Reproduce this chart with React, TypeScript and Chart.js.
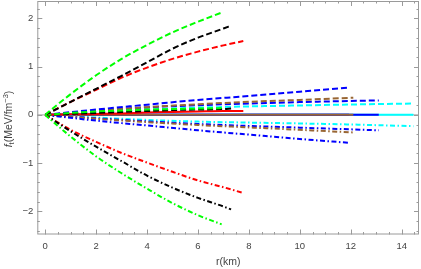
import React, { useEffect, useRef } from "react";
import { Chart, registerables } from "chart.js";

Chart.register(...registerables);

// ---- data (r in km, f in MeV/fm^-3) ----
const rGreen = [0, 0.5, 1, 2, 3, 4, 5, 6, 6.93];
const greenUp = [0, 0.22, 0.43, 0.82, 1.16, 1.45, 1.71, 1.93, 2.12];
const greenDown = [0, -0.23, -0.45, -0.86, -1.21, -1.53, -1.83, -2.08, -2.27];
const greenMid = [0, 0.02, 0.04, 0.07, 0.09, 0.11, 0.12, 0.13, 0.14];

const rBlack = [0, 1, 2, 3, 4, 5, 6, 7, 7.3];
const blackUp = [0, 0.27, 0.54, 0.81, 1.09, 1.37, 1.6, 1.79, 1.85];
const blackDown = [0, -0.34, -0.66, -0.96, -1.26, -1.51, -1.72, -1.9, -1.96];
const blackMid = [0, 0.02, 0.04, 0.06, 0.08, 0.1, 0.11, 0.12, 0.13];

const rRed = [0, 1, 2, 3, 4, 5, 6, 7, 7.78];
const redUp = [0, 0.27, 0.52, 0.77, 0.98, 1.16, 1.31, 1.44, 1.53];
const redDown = [0, -0.31, -0.56, -0.79, -0.99, -1.18, -1.36, -1.5, -1.62];
const redMid = [0, 0.01, 0.02, 0.03, 0.05, 0.06, 0.07, 0.08, 0.08];

const rBlue1 = [0, 2, 4, 6, 8, 10, 11.93];
const blue1Up = [0, 0.11, 0.21, 0.31, 0.39, 0.48, 0.567];
const blue1Down = [0, -0.12, -0.22, -0.32, -0.41, -0.5, -0.58];
const blue1Mid = [0, 0, 0, 0, 0, 0, 0];

const rBrown = [0, 2, 4, 6, 8, 10, 12.1];
const brownUp = [0, 0.085, 0.16, 0.22, 0.27, 0.31, 0.355];
const brownDown = [0, -0.08, -0.15, -0.21, -0.26, -0.31, -0.365];
const brownMid = [0, 0, 0, 0, 0, 0, 0];

const rBlue2 = [0, 2, 4, 6, 8, 10, 13.1];
const blue2Up = [0, 0.08, 0.155, 0.2, 0.235, 0.265, 0.3];
const blue2Down = [0, -0.07, -0.135, -0.19, -0.23, -0.265, -0.32];
const blue2Mid = [0, 0, 0, 0, 0, 0, 0];

const rCyan = [0, 2, 4, 6, 8, 10, 12, 14.46];
const cyanUp = [0, 0.055, 0.11, 0.15, 0.175, 0.195, 0.215, 0.235];
const cyanDown = [0, -0.055, -0.105, -0.14, -0.16, -0.178, -0.2, -0.234];
const cyanMid = [0, 0, 0, 0, 0, 0, 0, 0];

const xTickValues = [0, 2, 4, 6, 8, 10, 12, 14];
const yTickValues = [-2, -1, 0, 1, 2];
const xTitle = "r(km)";

const X_MIN = -0.31, X_MAX = 14.68, Y_MIN = -2.48, Y_MAX = 2.36;

const GREEN = "#00ff00", BLACK = "#000000", RED = "#ff0000", BLUE = "#0000ff", BROWN = "#996633", CYAN = "#00ffff";

type Kind = "dash" | "dashdot" | "solid";

function series(label: string, rs: number[], vs: number[], color: string, kind: Kind, width = 2) {
  return {
    label,
    data: rs.map((r, i) => ({ x: r, y: vs[i] })),
    borderColor: color,
    backgroundColor: color,
    borderWidth: width,
    borderDash: kind === "dash" ? [6, 3] : kind === "dashdot" ? [5, 2.5, 1.5, 2.5] : [],
    pointRadius: 0,
    fill: false,
    cubicInterpolationMode: "monotone" as const,
    borderCapStyle: "butt" as const,
  };
}

const TICK_COLOR = "#444444";
const FRAME_COLOR = "#9a9a9a";

const framePlugin = {
  id: "frameTicks",
  beforeDatasetsDraw(chart: any) {
    const { ctx, chartArea: a, scales } = chart;
    const y0 = scales.y.getPixelForValue(0);
    ctx.save();
    ctx.strokeStyle = "#a8a8a8";
    ctx.lineWidth = 1;
    ctx.beginPath();
    ctx.moveTo(a.left, y0);
    ctx.lineTo(a.right, y0);
    ctx.stroke();
    ctx.restore();
  },
  afterDraw(chart: any) {
    const { ctx, chartArea: a, scales } = chart;
    const xs = scales.x, ys = scales.y;
    ctx.save();
    ctx.strokeStyle = FRAME_COLOR;
    ctx.lineWidth = 1;
    ctx.strokeRect(a.left + 0.5, a.top + 0.5, a.right - a.left - 1, a.bottom - a.top - 1);
    ctx.beginPath();
    for (let v = 0; v <= X_MAX; v += 0.5) {
      const major = xTickValues.includes(v);
      const len = major ? 5 : 2.5;
      const px = Math.round(xs.getPixelForValue(v)) + 0.5;
      ctx.moveTo(px, a.bottom);
      ctx.lineTo(px, a.bottom - len);
      ctx.moveTo(px, a.top);
      ctx.lineTo(px, a.top + len);
    }
    for (let k = -12; k <= 11; k++) {
      const v = k / 5;
      if (v < Y_MIN || v > Y_MAX) continue;
      const major = k % 5 === 0;
      const len = major ? 5 : 2.5;
      const py = Math.round(ys.getPixelForValue(v)) + 0.5;
      ctx.moveTo(a.left, py);
      ctx.lineTo(a.left + len, py);
      ctx.moveTo(a.right, py);
      ctx.lineTo(a.right - len, py);
    }
    ctx.stroke();

    ctx.fillStyle = TICK_COLOR;
    ctx.font = "10.5px 'Liberation Sans', Arial, sans-serif";
    ctx.textAlign = "center";
    ctx.textBaseline = "middle";
    ctx.fillText(xTitle, (a.left + a.right) / 2, 262);

    const base = "10.5px 'Liberation Sans', Arial, sans-serif";
    const small = "7.5px 'Liberation Sans', Arial, sans-serif";
    const ital = "italic 10.5px 'Liberation Sans', Arial, sans-serif";
    const parts: [string, string, number][] = [
      ["f", ital, 0],
      ["t", small, 2.5],
      ["(MeV/fm", base, 0],
      ["\u22123", small, -3.5],
      [")", base, 0],
    ];
    let total = 0;
    for (const [t, f] of parts) {
      ctx.font = f;
      total += ctx.measureText(t).width;
    }
    ctx.translate(9, 119);
    ctx.rotate(-Math.PI / 2);
    ctx.textAlign = "left";
    let cx = -total / 2;
    for (const [t, f, dy] of parts) {
      ctx.font = f;
      ctx.fillText(t, cx, dy);
      cx += ctx.measureText(t).width;
    }
    ctx.restore();
  },
};

export default function App() {
  const ref = useRef<HTMLCanvasElement | null>(null);
  useEffect(() => {
    if (!ref.current) return;
    // Chart.js paints the first dataset on top, so list top-most first
    const datasets = [
      series("green down", rGreen, greenDown, GREEN, "dashdot"),
      series("green up", rGreen, greenUp, GREEN, "dash"),
      series("black down", rBlack, blackDown, BLACK, "dashdot"),
      series("black up", rBlack, blackUp, BLACK, "dash"),
      series("red down", rRed, redDown, RED, "dashdot"),
      series("red up", rRed, redUp, RED, "dash"),
      series("green mid", rGreen, greenMid, GREEN, "dash"),
      series("black mid", rBlack, blackMid, BLACK, "dash"),
      series("red mid", rRed, redMid, RED, "solid"),
      series("blue1 down", rBlue1, blue1Down, BLUE, "dashdot"),
      series("blue1 up", rBlue1, blue1Up, BLUE, "dash"),
      series("brown down", rBrown, brownDown, BROWN, "dashdot"),
      series("brown up", rBrown, brownUp, BROWN, "dash"),
      series("blue2 down", rBlue2, blue2Down, BLUE, "dashdot"),
      series("blue2 up", rBlue2, blue2Up, BLUE, "dash"),
      series("cyan down", rCyan, cyanDown, CYAN, "dashdot"),
      series("cyan up", rCyan, cyanUp, CYAN, "dash"),
      series("brown mid", rBrown, brownMid, BROWN, "solid"),
      series("blue1 mid", rBlue1, blue1Mid, BLUE, "solid"),
      series("blue2 mid", rBlue2, blue2Mid, BLUE, "solid"),
      series("cyan mid", rCyan, cyanMid, CYAN, "solid"),
    ];
    const chart = new Chart(ref.current, {
      type: "line",
      data: { datasets },
      options: {
        animation: false,
        responsive: false,
        devicePixelRatio: 1,
        layout: { padding: { top: 1, right: 2, bottom: 0, left: 0 } },
        plugins: { legend: { display: false }, tooltip: { enabled: false } },
        scales: {
          x: {
            type: "linear",
            min: X_MIN,
            max: X_MAX,
            afterFit: (s: any) => { s.height = 34.5; s.paddingLeft = 0; s.paddingRight = 0; },
            afterBuildTicks: (s: any) => { s.ticks = xTickValues.map((v) => ({ value: v })); },
            grid: { display: false, drawTicks: false },
            border: { display: false },
            ticks: {
              color: TICK_COLOR,
              padding: 6,
              maxRotation: 0,
              font: { family: "'Liberation Sans', Arial, sans-serif", size: 9.5 },
              callback: (v: any) => String(v),
            },
          },
          y: {
            type: "linear",
            min: Y_MIN,
            max: Y_MAX,
            afterFit: (s: any) => { s.width = 37.3; s.paddingTop = 0; s.paddingBottom = 0; },
            afterBuildTicks: (s: any) => { s.ticks = yTickValues.map((v) => ({ value: v })); },
            grid: { display: false, drawTicks: false },
            border: { display: false },
            ticks: {
              color: TICK_COLOR,
              padding: 4,
              font: { family: "'Liberation Sans', Arial, sans-serif", size: 9.5 },
              callback: (v: any) => (Number(v) < 0 ? "\u2212" + Math.abs(Number(v)) : String(v)),
            },
          },
        },
      },
      plugins: [framePlugin],
    } as any);
    return () => chart.destroy();
  }, []);
  return (
    <div style={{ position: "fixed", left: 0, top: 0, width: 421, height: 269, background: "#fff" }}>
      <canvas ref={ref} width={421} height={269} style={{ width: 421, height: 269 }} />
    </div>
  );
}
